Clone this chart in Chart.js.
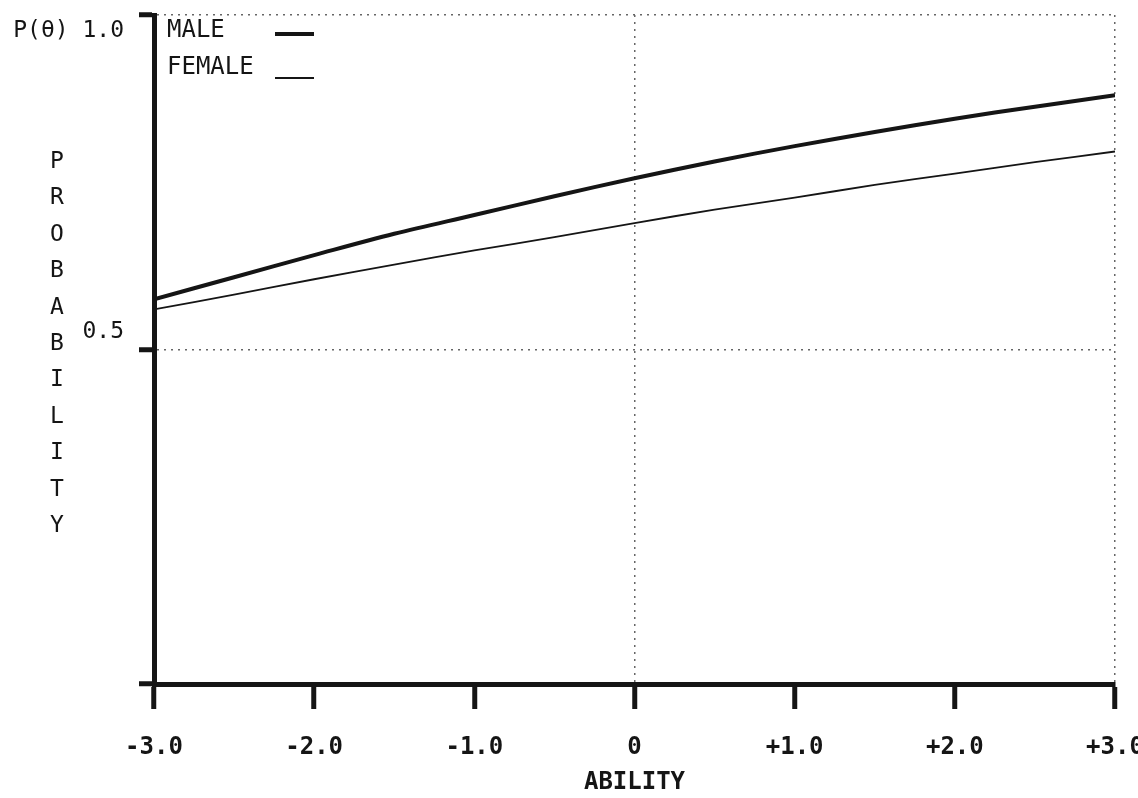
<!DOCTYPE html>
<html>
<head>
<meta charset="utf-8">
<title>Probability by ability</title>
<script src="https://cdn.jsdelivr.net/npm/chart.js@4.4.1/dist/chart.umd.min.js"></script>
<style>
  html, body { margin: 0; padding: 0; background: #fff; }
  #wrap { width: 1138px; height: 798px; position: relative; }
</style>
</head>
<body>
<div id="wrap"><canvas id="iccChart"></canvas></div>
<script>
// DATA
var abilityPoints = [-3.0, -2.5, -2.0, -1.5, -1.0, -0.5, 0, 0.5, 1.0, 1.5, 2.0, 2.5, 3.0];
var maleProb   = [0.575, 0.608, 0.641, 0.673, 0.701, 0.729, 0.756, 0.781, 0.804, 0.825, 0.845, 0.863, 0.880];
var femaleProb = [0.560, 0.582, 0.605, 0.627, 0.648, 0.668, 0.689, 0.709, 0.727, 0.746, 0.763, 0.780, 0.796];
var seriesNames = ['MALE', 'FEMALE'];
var xTickValues = [-3, -2, -1, 0, 1, 2, 3];
var xTickLabels = ['-3.0', '-2.0', '-1.0', '0', '+1.0', '+2.0', '+3.0'];
var yTickValues = [0, 0.5, 1];
var yTickLabels = ['', '0.5', 'P(θ) 1.0'];
var yTitle = 'PROBABILITY';
var xTitle = 'ABILITY';

var ink = '#151515';
var monoFont = '"DejaVu Sans Mono", "Liberation Mono", monospace';

function toPoints(values) {
  return abilityPoints.map((x, i) => ({ x: x, y: values[i] }));
}

// custom text + legend, drawn against the chart's own scales
var printerDecor = {
  id: 'printerDecor',
  afterDraw(chart) {
    const ctx = chart.ctx;
    const yScale = chart.scales.y;
    const area = chart.chartArea;
    ctx.save();
    ctx.fillStyle = ink;
    ctx.font = '23px ' + monoFont;
    ctx.textBaseline = 'middle';
    ctx.textAlign = 'right';

    // y tick labels sit a little off their ticks, like the plotter did
    yTickValues.forEach((v, i) => {
      if (!yTickLabels[i]) return;
      let py = yScale.getPixelForValue(v);
      let shift = (v === 1) ? 16 : -17;
      ctx.fillText(yTickLabels[i], 124, py + shift);
    });

    // stacked y title
    ctx.textAlign = 'center';
    for (let i = 0; i < yTitle.length; i++) {
      ctx.fillText(yTitle[i], 57, 162 + i * 36.4);
    }

    // legend: name then line sample
    ctx.font = '24px ' + monoFont;
    chart.data.datasets.forEach((ds, i) => {
      let py = area.top + 16 + i * 37;
      ctx.textAlign = 'left';
      ctx.fillText(ds.label, 167, py);
      ctx.beginPath();
      ctx.lineWidth = ds.borderWidth;
      ctx.strokeStyle = ink;
      let ly = py + (i === 0 ? 3 : 10);
      ctx.moveTo(275, ly);
      ctx.lineTo(314, ly);
      ctx.stroke();
    });
    ctx.restore();
  }
};

var ctx = document.getElementById('iccChart').getContext('2d');

var iccChart = new Chart(ctx, {
  type: 'line',
  data: {
    datasets: [
      {
        label: seriesNames[0],
        data: toPoints(maleProb),
        borderColor: ink,
        borderWidth: 4,
        pointRadius: 0,
        tension: 0.35,
        fill: false
      },
      {
        label: seriesNames[1],
        data: toPoints(femaleProb),
        borderColor: ink,
        borderWidth: 1.8,
        pointRadius: 0,
        tension: 0.35,
        fill: false
      }
    ]
  },
  options: {
    responsive: true,
    maintainAspectRatio: false,
    animation: false,
    layout: { padding: { left: 0, right: 23, top: 15, bottom: 0 } },
    plugins: {
      legend: { display: false },
      tooltip: { enabled: false }
    },
    scales: {
      x: {
        type: 'linear',
        min: -3,
        max: 3,
        afterBuildTicks: (s) => { s.ticks = xTickValues.map(v => ({ value: v })); },
        afterFit: (s) => { s.height = 114; s.paddingLeft = 0; s.paddingRight = 0; },
        ticks: {
          padding: 24,
          maxRotation: 0,
          autoSkip: false,
          color: ink,
          font: { family: monoFont, size: 24, weight: 'bold' },
          callback: (v) => xTickLabels[xTickValues.indexOf(v)]
        },
        grid: {
          color: (c) => (c.tick && (c.tick.value === 0 || c.tick.value === 3)) ? '#666' : 'rgba(0,0,0,0)',
          lineWidth: 1.5,
          tickColor: ink,
          tickWidth: 5,
          tickLength: 25
        },
        border: { display: true, color: ink, width: 5, dash: [2, 5] },
        title: {
          display: true,
          text: xTitle,
          color: ink,
          font: { family: monoFont, size: 24, weight: 'bold' },
          padding: { top: 0, bottom: 1 }
        }
      },
      y: {
        type: 'linear',
        min: 0,
        max: 1,
        afterBuildTicks: (s) => { s.ticks = yTickValues.map(v => ({ value: v })); },
        afterFit: (s) => { s.width = 154; s.paddingTop = 0; s.paddingBottom = 0; },
        ticks: { display: false },
        grid: {
          color: (c) => (c.tick && c.tick.value > 0) ? '#666' : 'rgba(0,0,0,0)',
          lineWidth: 1.5,
          tickColor: ink,
          tickWidth: 5,
          tickLength: 15
        },
        border: { display: true, color: ink, width: 5, dash: [2, 5] }
      }
    }
  },
  plugins: [printerDecor]
});
</script>
</body>
</html>
